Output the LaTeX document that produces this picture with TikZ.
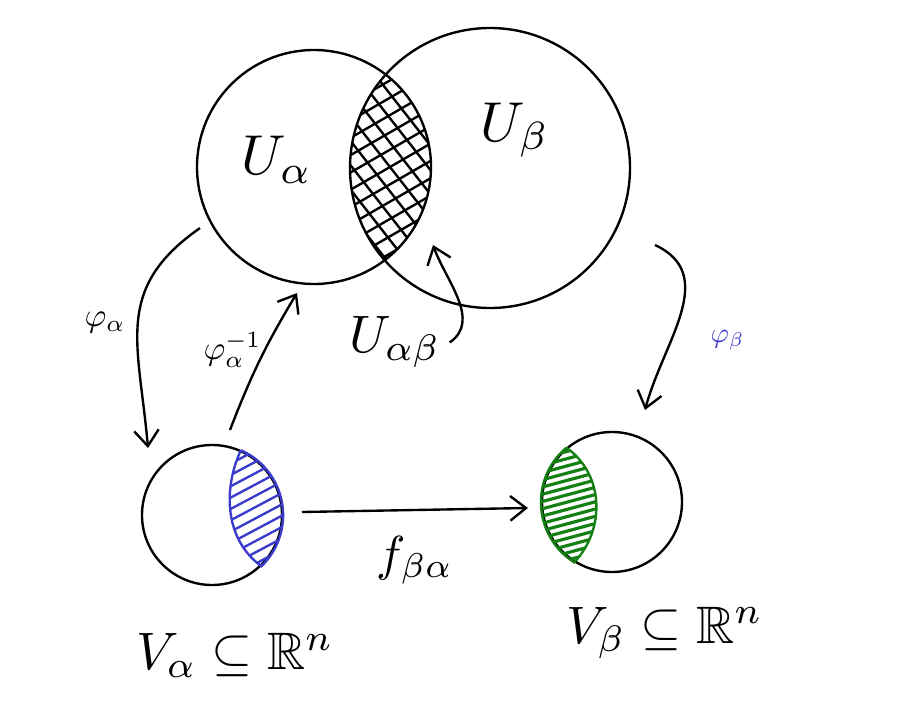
\documentclass[tikz,border=0pt]{standalone}
\usepackage{amsmath}
\usepackage{amssymb}
\usepackage{tikz}
\usetikzlibrary{arrows.meta}
\definecolor{colorA}{rgb}{0.23,0.23,0.8}
\definecolor{colorB}{rgb}{0.08,0.5,0.08}
\newcommand*{\colorA}[1]{\textcolor{colorA}{#1}}

\begin{document}
\begin{tikzpicture}[line width=1.35pt, >={Straight Barb[length=9pt,width=14pt]},
		set/.style={draw, circle, inner sep=0pt},
		lbl/.style={inner sep=1pt},
	]
		\useasboundingbox (0,0) rectangle (18.24,-14.26);
		%
		\node[set, minimum size=4.68cm] (Ua) at (6.28,-3.34) {};
		\node[set, minimum size=5.60cm] (Ub) at (9.80,-3.36) {};
		\node[set, minimum size=2.80cm] (Va) at (4.24,-10.30) {};
		\node[set, minimum size=2.80cm] (Vb) at (12.24,-10.04) {};
		%
		\begin{scope}
			\clip (6.28,-3.34) circle (2.34);
			\clip (9.80,-3.36) circle (2.80);
			\foreach \k in {-9,...,9}
				\draw[shift={(7.8,-3.34)}, rotate=30] (-3,\k*0.3) -- (3,\k*0.3);
			\foreach \k in {-9,...,9}
				\draw[shift={(7.8,-3.34)}, rotate=-52] (-3,\k*0.3) -- (3,\k*0.3);
		\end{scope}
		%
		\coordinate (vaT) at (Va.66);
		\coordinate (vaB) at (Va.-46);
		\begin{scope}
			\clip (4.24,-10.30) circle (1.4);
			\clip (vaT) .. controls (4.45,-9.8) and (4.5,-10.8) .. (vaB) -- (6,-11.6) -- (6,-8.8) -- cycle;
			\foreach \k in {-8,...,8}
				\draw[colorA, shift={(5.0,-10.2)}, rotate=28] (-2,\k*0.2) -- (2,\k*0.2);
		\end{scope}
		\draw[colorA] (vaT) .. controls (4.45,-9.8) and (4.5,-10.8) .. (vaB)
			arc[start angle=-46, end angle=66, radius=1.42];
		%
		\coordinate (vbT) at (Vb.130);
		\coordinate (vbB) at (Vb.238);
		\begin{scope}
			\clip (12.24,-10.04) circle (1.4);
			\clip (vbT) .. controls (12.1,-9.5) and (12.1,-10.6) .. (vbB) -- (10.5,-11.6) -- (10.5,-8.6) -- cycle;
			\foreach \k in {-12,...,12}
				\draw[colorB, line width=1.8pt, shift={(11.5,-10.0)}, rotate=15] (-2,\k*0.14) -- (2,\k*0.14);
		\end{scope}
		\draw[colorB] (vbT) .. controls (12.1,-9.5) and (12.1,-10.6) .. (vbB)
			arc[start angle=238, end angle=130, radius=1.42];
		%
		\node[lbl, scale=3.2] (la) at (5.54,-3.2) {$U_\alpha$};
		\node[lbl, scale=3.2] (lb) at (10.3,-2.6) {$U_\beta$};
		\node[lbl, scale=3] (Uab) at (7.9,-6.85) {$U_{\alpha\beta}$};
		\node[lbl, scale=1.9] (pa) at (2.1,-6.45) {$\varphi_\alpha$};
		\node[lbl, scale=1.9] (pi) at (4.65,-7.0) {$\varphi_\alpha^{-1}$};
		\node[lbl, scale=1.6] (pb) at (14.55,-6.8) {\colorA{$\varphi_\beta$}};
		\node[lbl, scale=2.8] (f) at (8.3,-11.2) {$f_{\beta\alpha}$};
		\node[lbl, scale=3] (lva) at (4.7,-13.1) {$V_\alpha \subseteq \mathbb{R}^n$};
		\node[lbl, scale=3] (lvb) at (13.3,-12.65) {$V_\beta \subseteq \mathbb{R}^n$};
		%
		\coordinate (pa1) at (4.0,-4.56);
		\coordinate (pa2) at (2.96,-8.96);
		\coordinate (pi1) at (4.6,-8.6);
		\coordinate (pi2) at (5.94,-5.86);
		\coordinate (uab2) at (8.66,-4.9);
		\coordinate (pb1) at (13.1,-4.9);
		\coordinate (pb2) at (12.9,-8.2);
		\coordinate (f1) at (6.04,-10.24);
		\coordinate (f2) at (10.56,-10.16);
		%
		\draw[->] (pa1) to[out=215, in=95, looseness=1.2] (pa2);
		\draw[->] (pi1) to[bend left=5] (pi2);
		\draw[->] (Uab.east) to[out=35, in=-70] (uab2);
		\draw[->] (pb1) to[out=-25, in=75, looseness=1.1] (pb2);
		\draw[->] (f1) to (f2);
	\end{tikzpicture}
\end{document}
